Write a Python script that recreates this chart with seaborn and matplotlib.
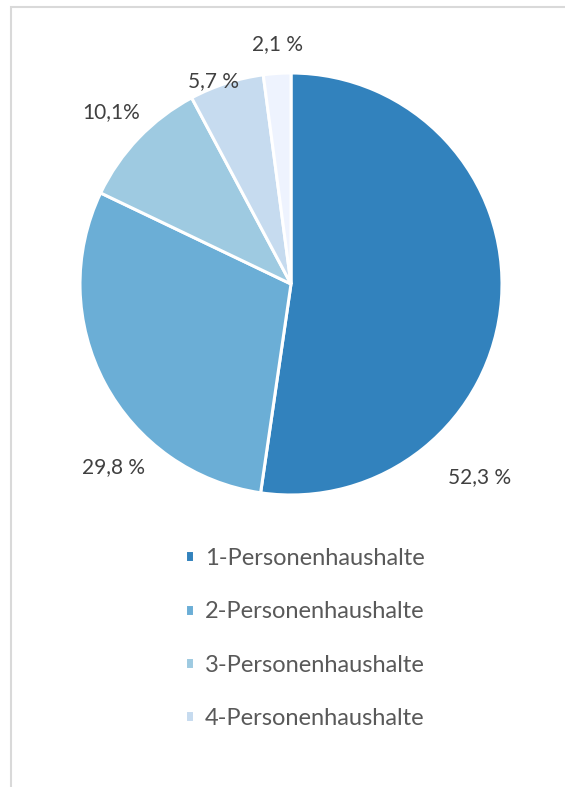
import numpy as np
import matplotlib
matplotlib.use("Agg")
import matplotlib.pyplot as plt
import matplotlib.patches as patches
import seaborn as sns

# Data
categories = ["1-Personenhaushalte", "2-Personenhaushalte", "3-Personenhaushalte",
              "4-Personenhaushalte", "5+-Personenhaushalte"]
shares = [52.3, 29.8, 10.1, 5.7, 2.1]
value_labels = ["52,3 %", "29,8 %", "10,1%", "5,7 %", "2,1 %"]
colors = ["#3282BD", "#6BAED6", "#9ECAE1", "#C6DBEF", "#EEF3FE"]

# Label placement (angle in degrees, distance in radii)
label_angles = [-45.6, 225.8, 136.4, 110.8, 93.3]
label_dist = [1.28, 1.21, 1.18, 1.03, 1.14]

sns.set_style("white")
plt.rcParams["font.family"] = ["Lato", "DejaVu Sans"]

fig = plt.figure(figsize=(5.65, 7.87), dpi=100)

# Light frame around the chart area
frame = patches.Rectangle((11 / 565, -0.1), 1.0, 1 - 7 / 787 + 0.1,
                          transform=fig.transFigure, fill=False,
                          edgecolor="#D9D9D9", linewidth=1.5)
fig.patches.append(frame)

cx, cy, r = 291, 284, 211
ax = fig.add_axes([(cx - r) / 565, 1 - (cy + r) / 787, 2 * r / 565, 2 * r / 787])
wedges, _ = ax.pie(shares, colors=colors, startangle=90, counterclock=False,
                   wedgeprops=dict(edgecolor="white", linewidth=2.2))
ax.set_xlim(-1, 1)
ax.set_ylim(-1, 1)
ax.set_aspect("equal")
ax.axis("off")

for lab, ang, d in zip(value_labels, label_angles, label_dist):
    a = np.deg2rad(ang)
    ax.text(d * np.cos(a), d * np.sin(a), lab, ha="center", va="center",
            fontsize=15, color="#404040", clip_on=False)

fig.legend(wedges[:4], categories[:4], loc="upper left",
           bbox_to_anchor=(173 / 565, 1 - 536 / 787), frameon=False, borderpad=0,
           fontsize=17, labelcolor="#595959", handlelength=0.4, handleheight=0.4,
           handletextpad=0.45, labelspacing=1.37)

plt.savefig("out.png", dpi=100)
